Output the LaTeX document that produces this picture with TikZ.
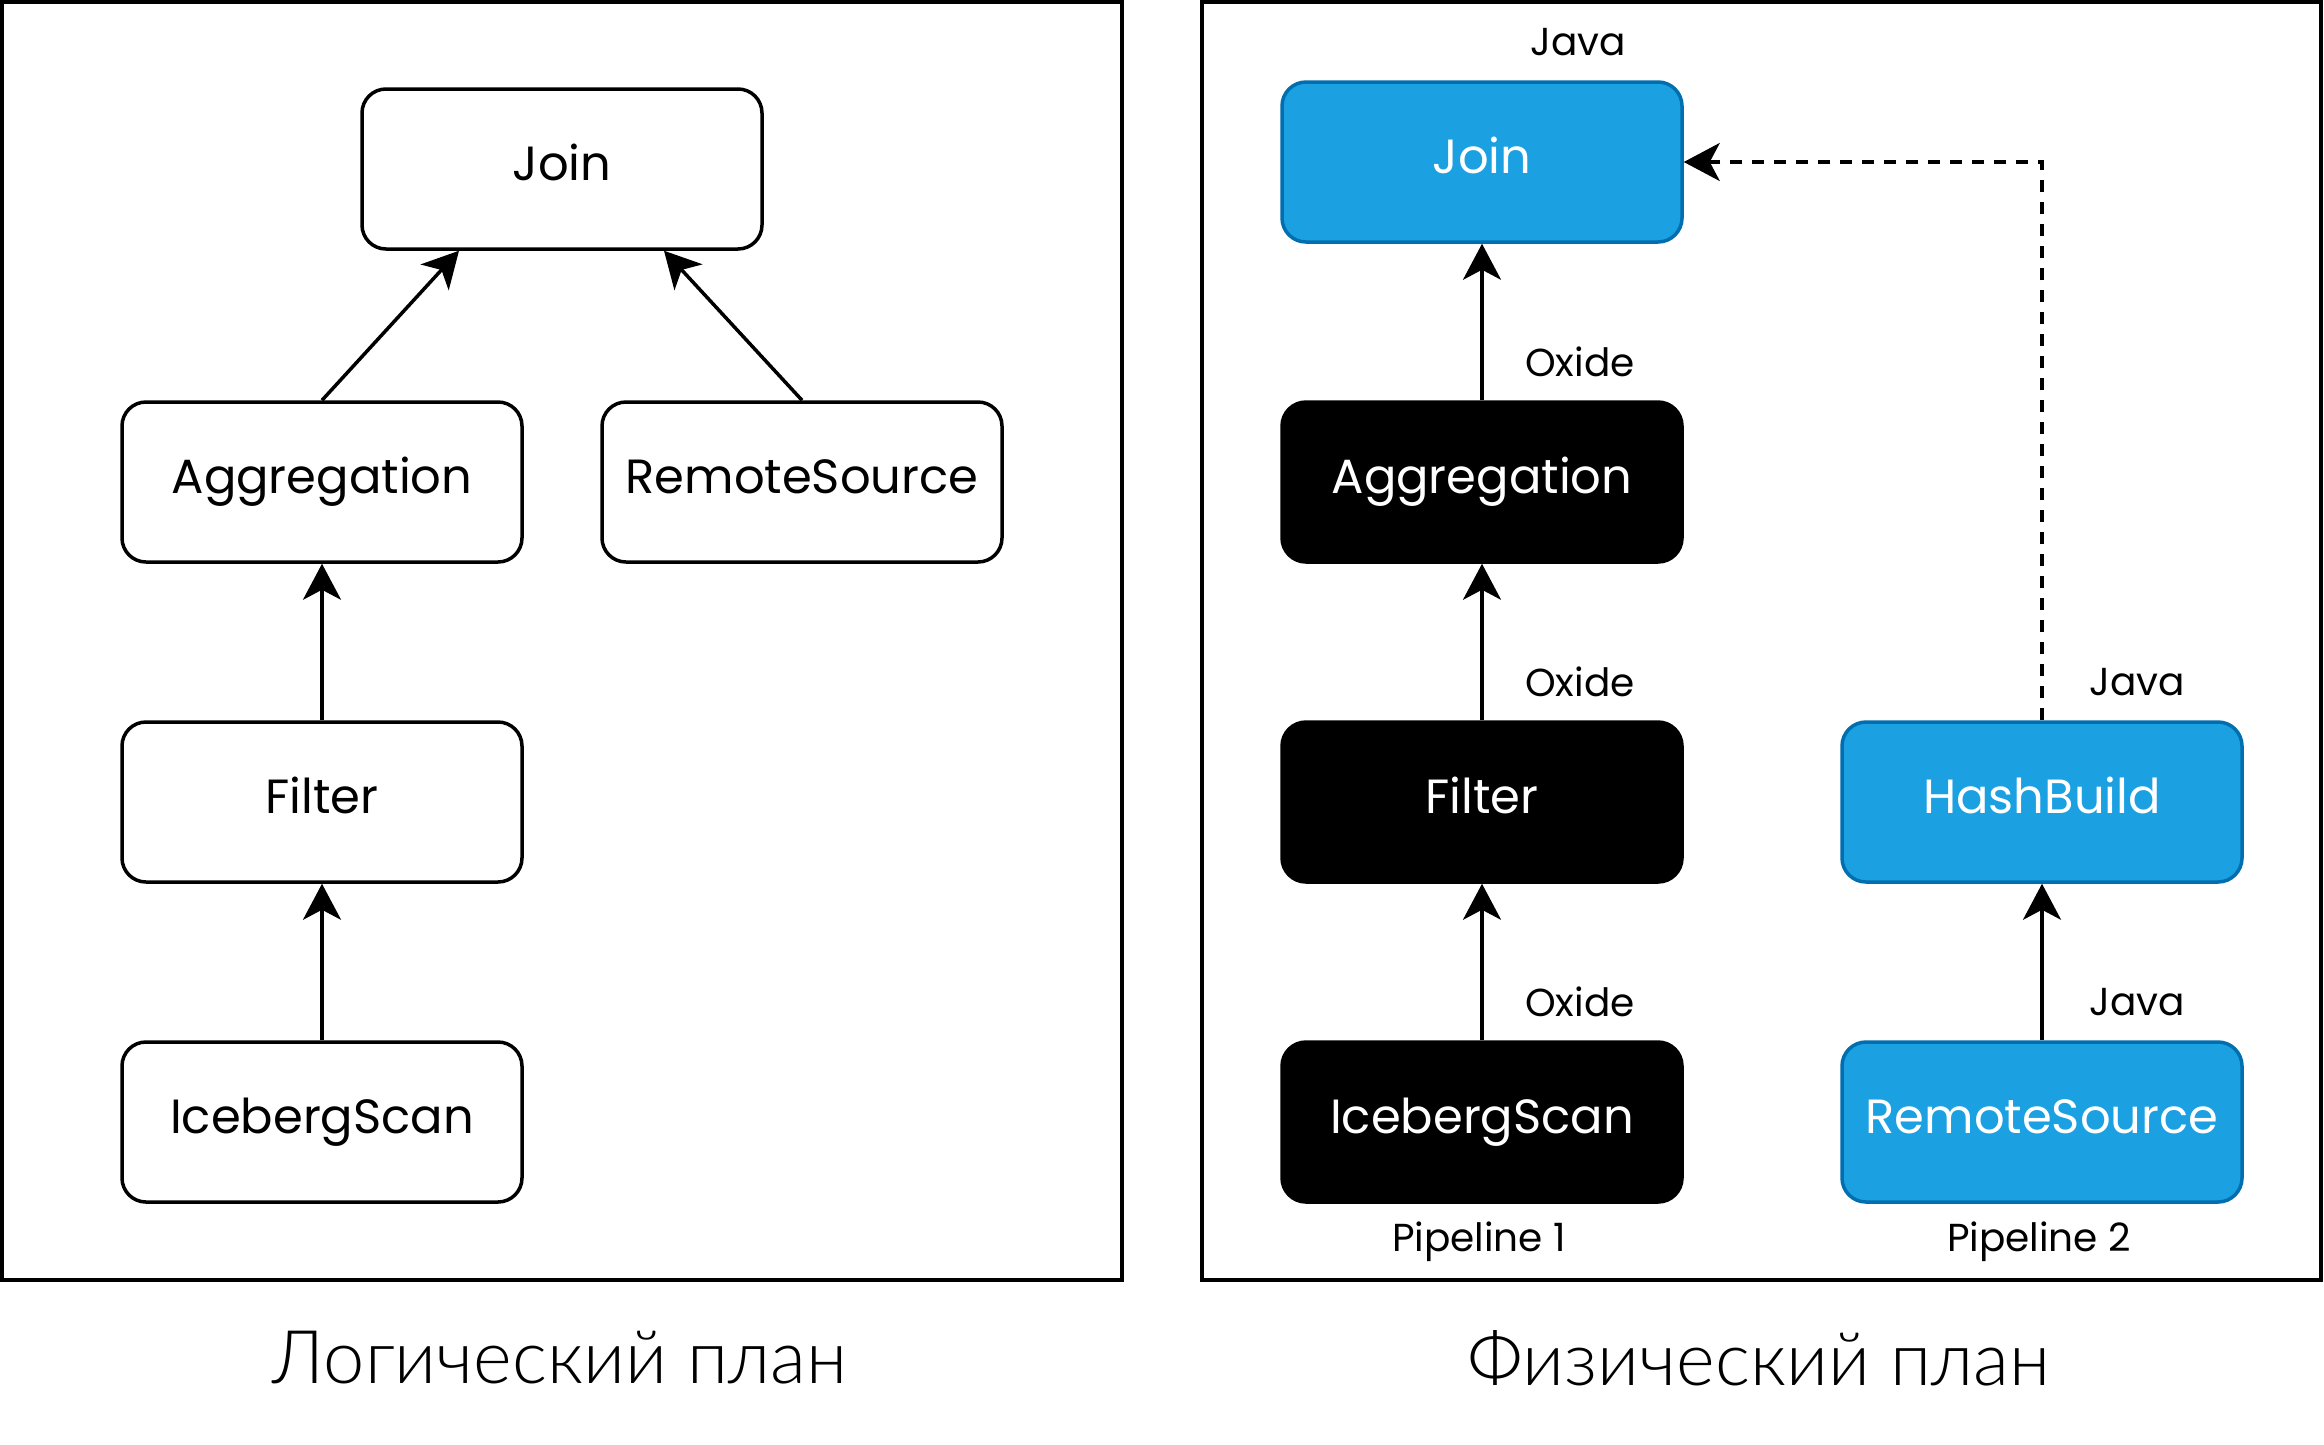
\documentclass[tikz,border=0pt]{standalone}
\usepackage{fontspec}
\setmainfont{Poppins}
\newfontfamily\cyrfont{Lato Light}
\usetikzlibrary{arrows.meta}
\definecolor{jblue}{HTML}{1BA1E2}
\definecolor{jborder}{HTML}{006EAF}
\begin{document}
\begin{tikzpicture}[x=1pt,y=-1pt,
 box/.style={draw=black, line width=3.5pt, rounded corners=24pt, minimum width=400pt, minimum height=160pt, inner sep=0pt, font=\fontsize{48}{56}\selectfont, text height=32pt, text depth=10pt, fill=white},
 javabox/.style={box, fill=jblue, draw=jborder, text=white},
 oxidebox/.style={box, fill=black, draw=black, text=white},
 lbl/.style={font=\fontsize{39}{46}\selectfont, inner sep=0pt},
 ttl/.style={font=\cyrfont\fontsize{74}{86}\selectfont, inner sep=0pt},
 arr/.style={line width=3.5pt, -{Stealth[length=36pt,width=38pt,inset=10pt]}},
 frm/.style={draw, line width=3.5pt}]
\useasboundingbox (0,0) rectangle (2324,1444);
% frames
\draw[frm] (2,2) rectangle (1122,1280);
\draw[frm] (1202,2) rectangle (2321,1280);
% logical plan
\node[box] (ljoin) at (562,169) {Join};
\node[box] (lagg) at (322,482) {Aggregation};
\node[box] (lrem) at (802,482) {RemoteSource};
\node[box] (lfil) at (322,802) {Filter};
\node[box] (lice) at (322,1122) {IcebergScan};
\draw[arr] (lagg.north) -- ([xshift=-103pt]ljoin.south);
\draw[arr] (lrem.north) -- ([xshift=102pt]ljoin.south);
\draw[arr] (lfil.north) -- (lagg.south);
\draw[arr] (lice.north) -- (lfil.south);
% physical plan
\node[javabox] (pjoin) at (1482,162) {Join};
\node[oxidebox] (pagg) at (1482,482) {Aggregation};
\node[oxidebox] (pfil) at (1482,802) {Filter};
\node[oxidebox] (pice) at (1482,1122) {IcebergScan};
\node[javabox] (phash) at (2042,802) {HashBuild};
\node[javabox] (prem) at (2042,1122) {RemoteSource};
\draw[arr] (pagg.north) -- (pjoin.south);
\draw[arr] (pfil.north) -- (pagg.south);
\draw[arr] (pice.north) -- (pfil.south);
\draw[arr] (prem.north) -- (phash.south);
\draw[arr, dash pattern=on 12pt off 10pt] (phash.north) |- (pjoin.east);
% labels
\node[lbl] (l1) at (1578,42) {Java};
\node[lbl] (l2) at (1580,362) {Oxide};
\node[lbl] (l3) at (1580,682) {Oxide};
\node[lbl] (l4) at (1580,1002) {Oxide};
\node[lbl] (l5) at (2137,682) {Java};
\node[lbl] (l6) at (2137,1002) {Java};
\node[lbl] (p1) at (1479,1242) {Pipeline 1};
\node[lbl] (p2) at (2039,1242) {Pipeline 2};
% titles
\node[ttl] (t1) at (560,1358) {Логический план};
\node[ttl] (t2) at (1759,1358) {Физический план};
\end{tikzpicture}
\end{document}
